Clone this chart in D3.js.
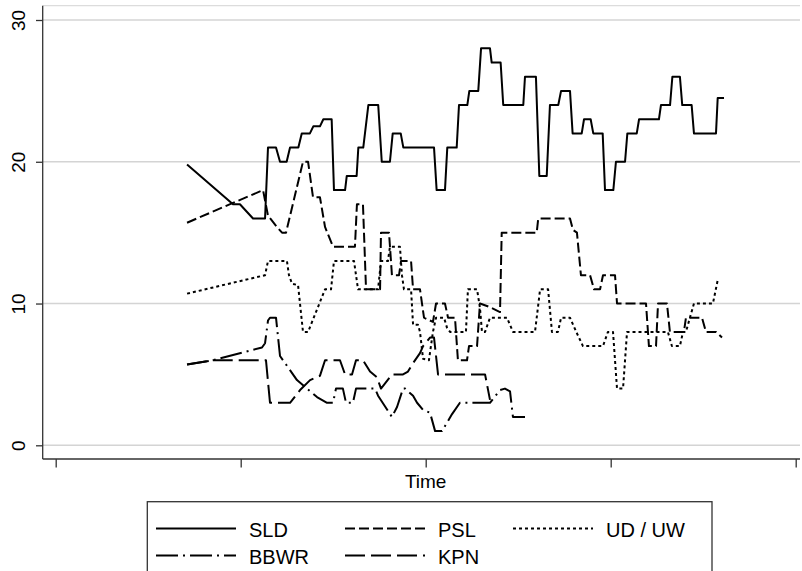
<!DOCTYPE html>
<html><head><meta charset="utf-8">
<script src="https://cdn.jsdelivr.net/npm/d3@7"></script>
<style>
body{margin:0;background:#fff}
svg{display:block}
text{font-family:"Liberation Sans",Arial,Helvetica,sans-serif;fill:#000}
</style>
</head><body>
<svg id="chart" width="802" height="571"></svg>
<script>
// time in months since January 1993, values in percent
const yTickValues = [0, 10, 20, 30];
const xTickValues = [0, 12, 24, 36, 48];
const seriesNames = ["SLD", "PSL", "UD / UW", "BBWR", "KPN"];

const sld = [[8.52,19.8],[11.50,17],[11.95,17],[12.80,16],[13.58,16],[13.77,21],[14.29,21],[14.55,20],[14.98,20],[15.20,21],[15.74,21],[15.96,22],[16.49,22],[16.71,22.5],[17.14,22.5],[17.36,23],[17.90,23],[18.05,18],[18.77,18],[18.88,19],[19.52,19],[19.63,21],[19.95,21],[20.28,24],[20.92,24],[21.15,20],[21.68,20],[21.86,22],[22.38,22],[22.55,21],[24.54,21],[24.71,18],[25.25,18],[25.40,21],[26.01,21],[26.16,24],[26.70,24],[26.83,25],[27.41,25],[27.59,28],[28.17,28],[28.28,27],[28.86,27],[29.03,24],[30.33,24],[30.44,26],[31.15,26],[31.37,19],[31.85,19],[32.06,24],[32.60,24],[32.78,25],[33.36,25],[33.53,22],[34.12,22],[34.27,23],[34.70,23],[34.87,22],[35.48,22],[35.63,18],[36.17,18],[36.34,20],[36.93,20],[37.08,22],[37.69,22],[37.84,23],[39.13,23],[39.26,24],[39.85,24],[40.00,26],[40.49,26],[40.64,24],[41.25,24],[41.40,22],[42.83,22],[42.94,24.5],[43.35,24.5]];

const psl = [[8.52,15.7],[11.50,17.1],[13.45,18],[13.77,16.2],[14.35,15.4],[14.68,15],[14.94,15],[16.04,20],[16.37,20],[16.69,17.5],[17.14,17.5],[17.47,15.4],[17.99,14],[19.41,14],[19.54,17],[19.93,17],[20.13,11],[21.04,11],[21.10,15],[21.62,15],[21.81,12],[22.27,12],[22.40,13],[23.05,13],[23.18,11],[23.63,11],[23.89,9],[24.47,8.7],[24.67,10],[25.25,10],[25.45,9],[25.90,9],[26.09,6],[26.68,6],[26.81,7],[27.33,7],[27.52,10],[28.17,9.75],[28.82,9.4],[28.93,15],[31.20,15],[31.30,16],[33.36,16],[33.55,15.2],[33.81,15],[34.07,12],[34.66,12],[34.92,11],[35.31,11],[35.50,12],[36.28,12],[36.41,10],[38.29,10],[38.48,7],[38.94,7],[39.07,10],[39.65,10],[39.84,8],[40.75,8],[40.88,9],[41.92,9],[42.18,8],[42.83,8],[43.22,7.6]];

const udUw = [[8.52,10.7],[13.58,12],[13.77,13],[15.00,13],[15.13,12],[15.33,11.4],[15.72,11.3],[16.04,8],[16.37,8],[17.47,11],[17.86,11],[18.05,13],[19.35,13],[19.61,11],[20.91,11],[21.10,13],[21.55,13],[21.68,14],[22.33,14],[22.46,12],[22.59,11],[23.05,11],[23.18,8.5],[23.50,8.5],[23.63,8],[23.83,6.1],[24.21,6],[24.47,8],[24.67,9],[25.19,9],[25.38,8.3],[25.58,8],[26.61,8],[26.74,11],[27.33,11],[27.52,9.7],[27.65,8],[27.85,8],[28.17,9],[29.27,9],[29.66,8],[31.09,8],[31.42,11],[31.94,11],[32.19,8],[32.58,8],[32.78,9],[33.36,9],[33.81,7.9],[34.20,7],[35.50,7],[35.82,8],[36.15,8],[36.41,4],[36.80,4],[37.06,8],[39.71,8],[39.97,7],[40.49,7],[40.69,8],[40.88,8],[41.14,9],[41.40,10],[42.63,10],[42.95,11.7]];

const bbwr = [[8.52,5.7],[10.20,6],[13.38,6.9],[13.58,7.2],[13.77,8.8],[13.90,9],[14.29,9],[14.55,6.3],[15.07,5.5],[15.65,4.6],[16.30,4],[16.95,3.4],[17.60,3],[17.99,3],[18.18,4],[18.63,4],[18.83,3],[19.28,3],[19.48,4],[20.71,4],[20.91,3.5],[21.81,2],[22.14,2.7],[22.53,4],[22.66,4],[23.18,3.5],[23.44,3],[23.83,2.5],[24.28,2.3],[24.61,1],[25.06,1],[25.71,2.2],[26.22,3],[28.17,3],[28.82,3.9],[29.14,4],[29.47,3.8],[29.66,2],[30.44,2]];

const kpn = [[8.52,5.7],[10.20,6],[13.64,6],[13.90,3],[15.20,3],[15.85,3.9],[16.50,4.6],[17.14,4.9],[17.47,6],[18.44,6],[18.77,5],[19.22,5],[19.48,6],[19.93,6],[20.39,5.2],[20.84,4.8],[21.10,4],[21.68,4.8],[21.81,5],[22.53,5],[22.85,5.2],[23.18,5.8],[23.63,6.5],[23.83,7],[24.28,7.6],[24.54,7.6],[24.80,5],[27.85,5],[28.17,3.2]];

const seriesData = [sld, psl, udUw, bbwr, kpn];
const dashes = [null, "10,4", "3,3", "22,5,2,5", "20,6"];

const svg = d3.select("#chart");
svg.append("rect").attr("width", 802).attr("height", 571).attr("fill", "#fff");

const plotLeft = 42.7, plotRight = 800, plotTop = 5.7, plotBottom = 459;
const x = d3.scaleLinear().domain([0, 48]).range([55.7, 795.7]);
const y = d3.scaleLinear().domain([0, 30]).range([445.3, 20]);

// plot region outline (top) and gridlines
svg.append("line").attr("x1", plotLeft).attr("x2", plotRight).attr("y1", plotTop).attr("y2", plotTop)
  .attr("stroke", "#dcdcdc").attr("stroke-width", 1.2);
svg.append("g").selectAll("line").data(yTickValues).join("line")
  .attr("x1", plotLeft).attr("x2", plotRight)
  .attr("y1", d => y(d)).attr("y2", d => y(d))
  .attr("stroke", "#d4d4d4").attr("stroke-width", 1.6);

// y axis
const yAxis = svg.append("g").attr("transform", `translate(${plotLeft},0)`)
  .call(d3.axisLeft(y).tickValues(yTickValues).tickSize(6.7).tickSizeOuter(0).tickFormat(d3.format("d")));
yAxis.select(".domain").remove();
yAxis.selectAll(".tick line").attr("stroke", "#333").attr("stroke-width", 1.3);
yAxis.selectAll(".tick text")
  .attr("transform", "rotate(-90)")
  .attr("x", 0).attr("y", -17.7).attr("dy", null)
  .attr("text-anchor", "middle")
  .style("font-size", "19px").style("font-family", "Liberation Sans, Arial, sans-serif").attr("fill", "#000");
svg.append("line").attr("x1", plotLeft).attr("x2", plotLeft).attr("y1", plotTop).attr("y2", plotBottom)
  .attr("stroke", "#333").attr("stroke-width", 1.3);

// x axis
const xAxis = svg.append("g").attr("transform", `translate(0,${plotBottom})`)
  .call(d3.axisBottom(x).tickValues(xTickValues).tickSize(8.5).tickSizeOuter(0).tickFormat(""));
xAxis.select(".domain").remove();
xAxis.selectAll(".tick line").attr("stroke", "#333").attr("stroke-width", 1.3);
svg.append("line").attr("x1", plotLeft).attr("x2", plotRight).attr("y1", plotBottom).attr("y2", plotBottom)
  .attr("stroke", "#333").attr("stroke-width", 1.3);

svg.append("text").attr("x", x(24)).attr("y", 487.7).attr("text-anchor", "middle")
  .style("font-size", "19px").text("Time");

// series lines
const line = d3.line().x(d => x(d[0])).y(d => y(d[1]));
seriesData.forEach((s, i) => {
  svg.append("path").datum(s)
    .attr("d", line)
    .attr("fill", "none")
    .attr("stroke", "#000")
    .attr("stroke-width", 2)
    .attr("stroke-linejoin", "round")
    .attr("stroke-dasharray", dashes[i]);
});

// legend
svg.append("rect").attr("x", 147.3).attr("y", 501.7).attr("width", 564.7).attr("height", 90)
  .attr("fill", "none").attr("stroke", "#333").attr("stroke-width", 1.3);
const legendPos = [
  {sx: 156, ly: 528.5, ty: 536.7},
  {sx: 345, ly: 528.5, ty: 536.7},
  {sx: 513, ly: 528.5, ty: 536.7},
  {sx: 156, ly: 555.5, ty: 563.5},
  {sx: 345, ly: 555.5, ty: 563.5}
];
seriesNames.forEach((name, i) => {
  const p = legendPos[i];
  svg.append("line").attr("x1", p.sx).attr("x2", p.sx + 80).attr("y1", p.ly).attr("y2", p.ly)
    .attr("stroke", "#000").attr("stroke-width", 2).attr("stroke-dasharray", dashes[i]);
  svg.append("text").attr("x", p.sx + 93).attr("y", p.ty).style("font-size", "20px").text(name);
});
</script>
</body></html>
